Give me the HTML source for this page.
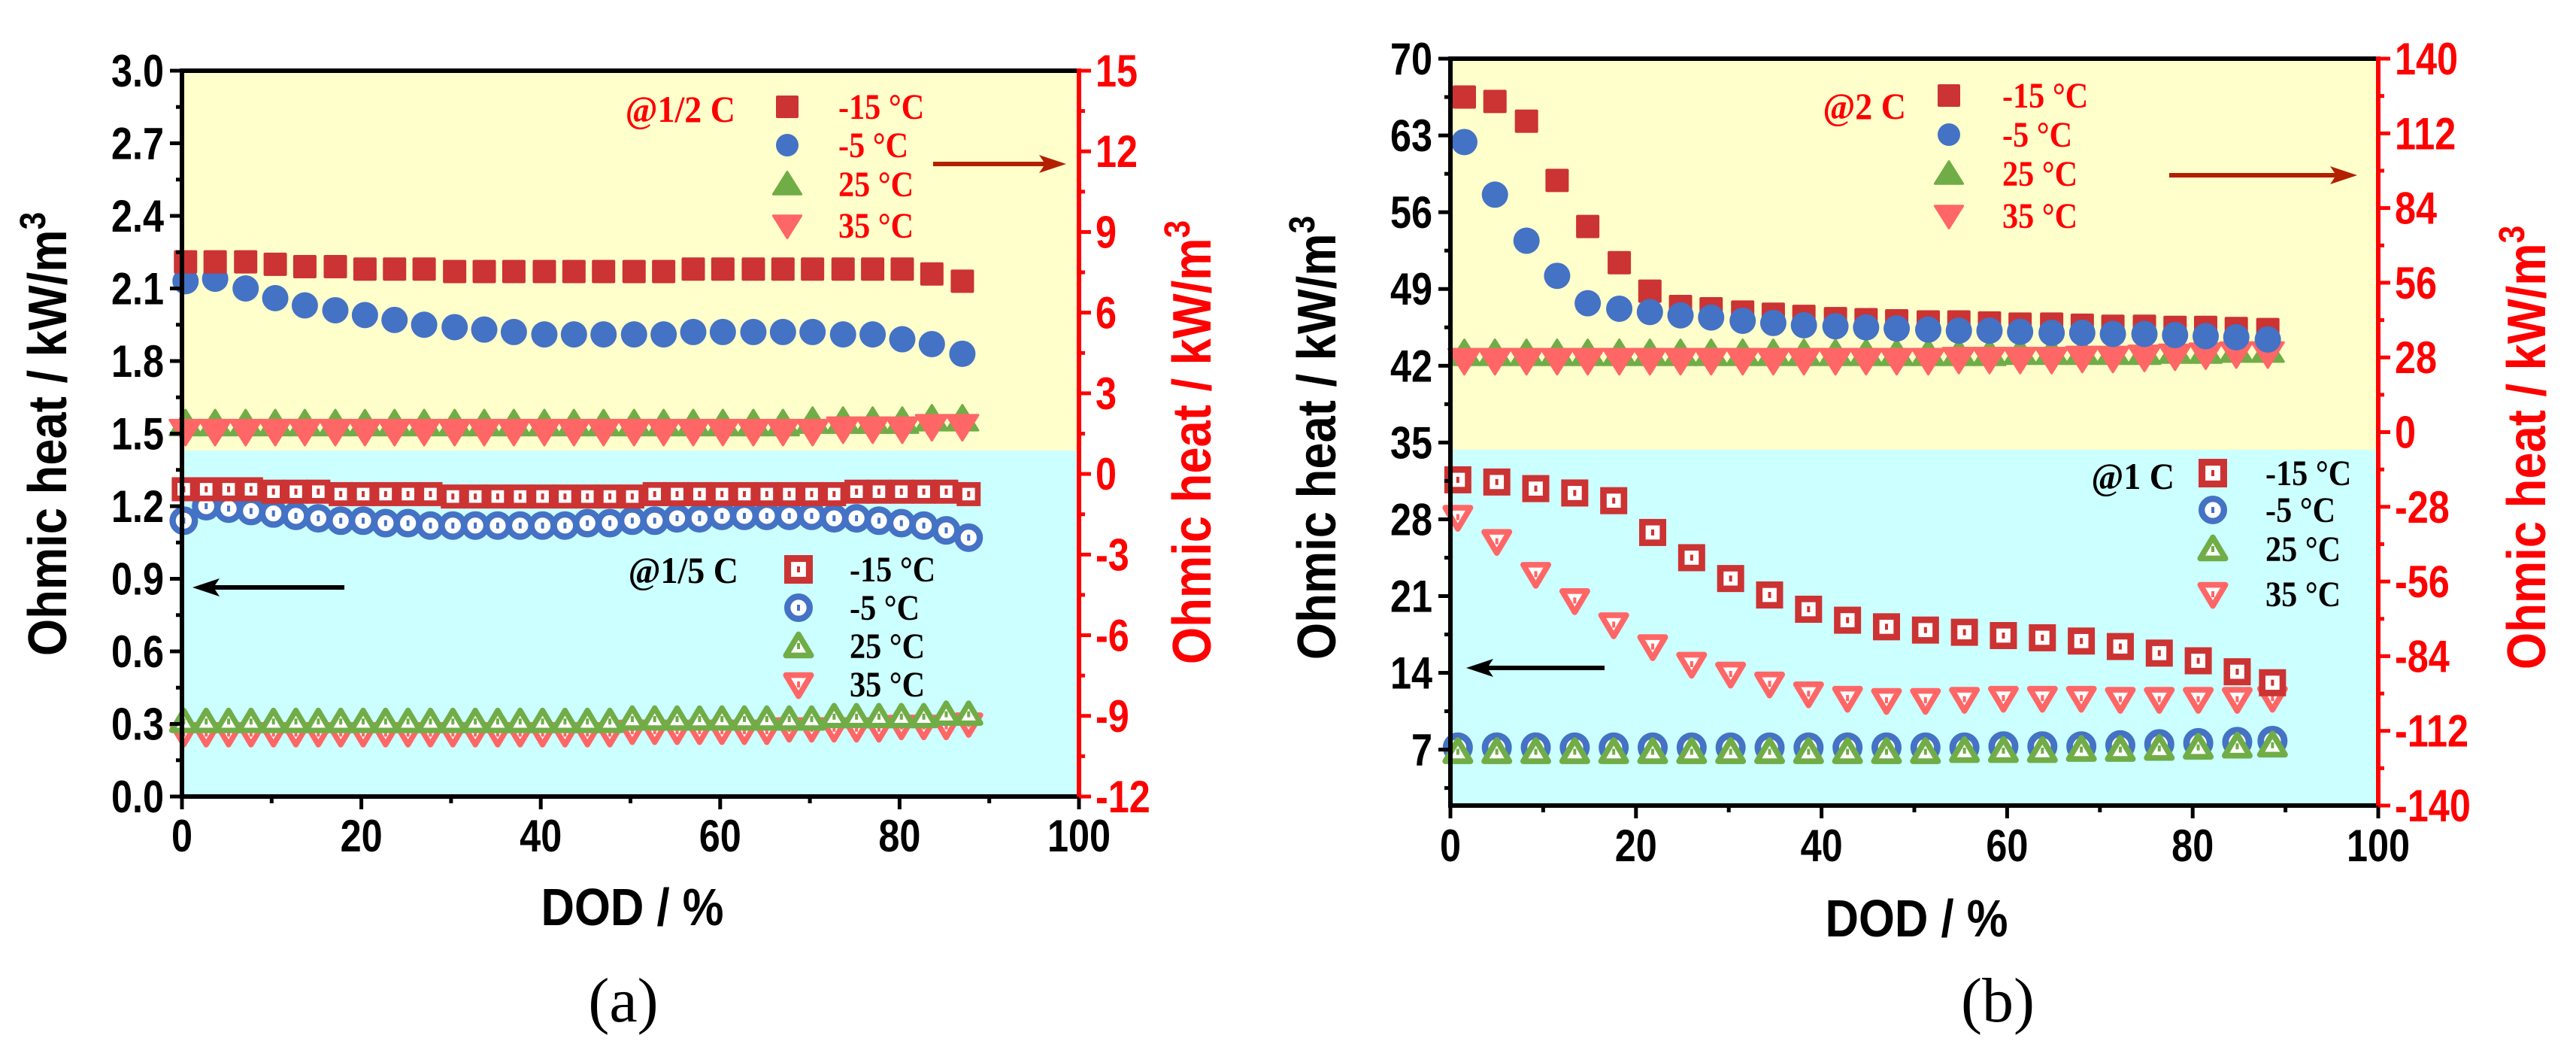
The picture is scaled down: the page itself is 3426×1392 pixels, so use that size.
<!DOCTYPE html>
<html><head><meta charset="utf-8"><style>
html,body{margin:0;padding:0;background:#fff;}
svg{display:block;}
text{font-family:"Liberation Sans",sans-serif;}
.sr{font-family:"Liberation Serif",serif;}
</style></head><body>
<svg id="c" width="3426" height="1392" viewBox="0 0 3426 1392" xmlns="http://www.w3.org/2000/svg"></svg>
<script>
// ---------- Panel (a) data ----------
const aXHalf = [0.4,3.7,7.1,10.4,13.7,17.1,20.4,23.7,27.0,30.4,33.7,37.0,40.4,43.7,47.0,50.4,53.7,57.0,60.3,63.7,67.0,70.3,73.7,77.0,80.3,83.6,87.0];
const aHalfM15 = [2.21,2.21,2.21,2.20,2.19,2.19,2.18,2.18,2.18,2.17,2.17,2.17,2.17,2.17,2.17,2.17,2.17,2.18,2.18,2.18,2.18,2.18,2.18,2.18,2.18,2.16,2.13];
const aHalfM5 = [2.13,2.14,2.10,2.06,2.03,2.01,1.99,1.97,1.95,1.94,1.93,1.92,1.91,1.91,1.91,1.91,1.91,1.92,1.92,1.92,1.92,1.92,1.91,1.91,1.89,1.87,1.83];
const aHalfP25 = [1.54,1.54,1.54,1.54,1.54,1.54,1.54,1.54,1.54,1.54,1.54,1.54,1.54,1.54,1.54,1.54,1.54,1.54,1.54,1.54,1.54,1.55,1.55,1.55,1.55,1.56,1.56];
const aHalfP35 = [1.51,1.51,1.51,1.51,1.51,1.51,1.51,1.51,1.51,1.51,1.51,1.51,1.51,1.51,1.51,1.51,1.51,1.51,1.51,1.51,1.51,1.51,1.52,1.52,1.52,1.53,1.53];
const aXFifth = [0.2,2.7,5.2,7.7,10.2,12.7,15.2,17.7,20.2,22.7,25.2,27.7,30.2,32.7,35.2,37.7,40.2,42.7,45.2,47.7,50.2,52.7,55.2,57.7,60.2,62.7,65.2,67.7,70.2,72.7,75.2,77.7,80.2,82.7,85.2,87.7];
const aFifthM15 = [1.27,1.27,1.27,1.27,1.26,1.26,1.26,1.25,1.25,1.25,1.25,1.25,1.24,1.24,1.24,1.24,1.24,1.24,1.24,1.24,1.24,1.25,1.25,1.25,1.25,1.25,1.25,1.25,1.25,1.25,1.26,1.26,1.26,1.26,1.26,1.25];
const aFifthM5 = [1.14,1.20,1.19,1.18,1.17,1.16,1.15,1.14,1.14,1.13,1.13,1.12,1.12,1.12,1.12,1.12,1.12,1.12,1.13,1.13,1.14,1.14,1.15,1.15,1.16,1.16,1.16,1.16,1.16,1.15,1.15,1.14,1.13,1.12,1.10,1.07];
const aFifthP25 = [0.31,0.31,0.31,0.31,0.31,0.31,0.31,0.31,0.31,0.31,0.31,0.31,0.31,0.31,0.31,0.31,0.31,0.31,0.31,0.31,0.32,0.32,0.32,0.32,0.32,0.32,0.32,0.32,0.32,0.33,0.33,0.33,0.33,0.33,0.34,0.34];
const aFifthP35 = [0.26,0.26,0.26,0.26,0.26,0.26,0.26,0.26,0.26,0.26,0.26,0.26,0.26,0.26,0.26,0.26,0.26,0.26,0.26,0.26,0.27,0.27,0.27,0.27,0.27,0.27,0.27,0.28,0.28,0.28,0.28,0.28,0.29,0.29,0.29,0.30];
const aLeftTicks = ["0.0","0.3","0.6","0.9","1.2","1.5","1.8","2.1","2.4","2.7","3.0"];
const aRightTicks = ["-12","-9","-6","-3","0","3","6","9","12","15"];
const xTicks = ["0","20","40","60","80","100"];
// ---------- Panel (b) data ----------
const bX2C = [1.5,4.8,8.2,11.5,14.8,18.2,21.5,24.8,28.1,31.5,34.8,38.1,41.5,44.8,48.1,51.5,54.8,58.1,61.4,64.8,68.1,71.4,74.8,78.1,81.4,84.7,88.1];
const b2CM15 = [66.5,66.1,64.3,58.9,54.7,51.4,48.8,47.4,47.2,46.9,46.7,46.5,46.3,46.2,46.1,46.0,46.0,45.9,45.8,45.8,45.7,45.6,45.6,45.5,45.5,45.4,45.3];
const b2CM5 = [62.4,57.6,53.4,50.2,47.7,47.2,46.9,46.6,46.4,46.1,45.9,45.7,45.6,45.5,45.4,45.3,45.2,45.2,45.1,45.0,45.0,44.9,44.9,44.8,44.7,44.6,44.4];
const b2CP25 = [43.1,43.1,43.1,43.1,43.1,43.1,43.1,43.1,43.1,43.1,43.1,43.1,43.1,43.1,43.1,43.1,43.1,43.1,43.2,43.2,43.2,43.2,43.2,43.3,43.3,43.4,43.4];
const b2CP35 = [42.5,42.5,42.5,42.5,42.5,42.5,42.5,42.5,42.5,42.5,42.5,42.5,42.5,42.5,42.5,42.5,42.6,42.6,42.6,42.6,42.7,42.7,42.8,42.9,43.0,43.1,43.1];
const bX1C = [0.8,5.0,9.2,13.4,17.6,21.8,26.0,30.2,34.4,38.6,42.8,47.0,51.2,55.4,59.6,63.8,68.0,72.2,76.4,80.6,84.8,88.6];
const b1CM15 = [31.6,31.4,30.8,30.4,29.7,26.8,24.5,22.6,21.1,19.8,18.8,18.2,17.9,17.7,17.4,17.2,16.9,16.4,15.8,15.1,14.1,13.1];
const b1CM5 = [7.2,7.2,7.2,7.2,7.2,7.2,7.2,7.2,7.2,7.2,7.2,7.2,7.2,7.2,7.3,7.3,7.3,7.4,7.5,7.6,7.7,7.8];
const b1CP25 = [6.8,6.8,6.8,6.8,6.8,6.8,6.8,6.8,6.8,6.8,6.8,6.8,6.8,6.9,6.9,6.9,7.0,7.0,7.1,7.2,7.3,7.4];
const b1CP35 = [28.2,26.0,23.0,20.6,18.4,16.4,14.8,13.9,13.0,12.1,11.7,11.5,11.5,11.6,11.7,11.7,11.7,11.6,11.6,11.6,11.6,11.7];
const bLeftTicks = ["7","14","21","28","35","42","49","56","63","70"];
const bRightTicks = ["-140","-112","-84","-56","-28","0","28","56","84","112","140"];

const NS="http://www.w3.org/2000/svg";
const svg=document.getElementById('c');
function el(tag,attrs,parent,txt){const e=document.createElementNS(NS,tag);for(const k in attrs)e.setAttribute(k,attrs[k]);if(txt!==undefined)e.textContent=txt;(parent||svg).appendChild(e);return e;}
const SX=0.84;
function ntext(parent,x,y,anchor,size,color,txt,sx){
  return el('text',{x:0,y:0,transform:`translate(${x},${y}) scale(${sx||SX},1)`,'text-anchor':anchor,'font-size':size,'font-weight':'bold',fill:color},parent,txt);
}

const C={sq:'#cc3333',ci:'#4472c4',up:'#70ad47',dn:'#ff6666'};

function marker(g,type,cx,cy,s,filled,color){
  let e;
  if(type==='sq'){
    const h=s/2;
    if(filled){e=el('rect',{x:cx-h,y:cy-h,width:s,height:s,rx:2,fill:color},g);}
    else{const sw=s*0.24;e=el('rect',{x:cx-h+sw/2,y:cy-h+sw/2,width:s-sw,height:s-sw,fill:'#fff',stroke:color,'stroke-width':sw},g);}
  }else if(type==='ci'){
    if(filled)e=el('circle',{cx:cx,cy:cy,r:s/2,fill:color},g);
    else{const sw=s*0.22;e=el('circle',{cx:cx,cy:cy,r:s/2-sw/2,fill:'#fff',stroke:color,'stroke-width':sw},g);}
  }else{
    const h=s*0.55,w=s*0.62,d=type==='up'?-1:1;
    const pts=`${cx},${cy+d*h} ${cx-w},${cy-d*h*0.8} ${cx+w},${cy-d*h*0.8}`;
    if(filled)e=el('polygon',{points:pts,fill:color,'stroke-linejoin':'round',stroke:color,'stroke-width':3},g);
    else{const sw=s*0.2;const h2=h-sw*0.7,w2=w-sw*0.9;
      e=el('polygon',{points:`${cx},${cy+d*h2} ${cx-w2},${cy-d*h2*0.8} ${cx+w2},${cy-d*h2*0.8}`,fill:'#fff',stroke:color,'stroke-width':sw,'stroke-linejoin':'round'},g);}
  }
  if(!filled){el('rect',{x:cx-2,y:cy-4,width:4,height:8,fill:color},g);}
  return e;
}

function panel(P){
  const g=el('g',{});
  
  
  const X=v=>P.x0+(v-0)/100*(P.x1-P.x0);
  const Y=v=>P.y1-(v-P.ymin)/(P.ymax-P.ymin)*(P.y1-P.y0);
  const YR=v=>P.y1-(v-P.rmin)/(P.rmax-P.rmin)*(P.y1-P.y0);
  const bg1=el('rect',{x:P.x0,y:P.y0,width:P.x1-P.x0,height:P.split-P.y0,fill:'#ffffcc'},g);
  
  const bg2=el('rect',{x:P.x0,y:P.split,width:P.x1-P.x0,height:P.y1-P.split,fill:'#ccffff'},g);
  
  P.series.forEach(s=>{
    const sg=el('g',{},g);
    
    
    s.ys.forEach((v,i)=>{
      const m=marker(sg,s.type,X(s.xs[i]),Y(v),s.size,s.filled,C[s.type]);
      
      
    });
  });
  el('line',{x1:P.x0,y1:P.y0,x2:P.x1,y2:P.y0,stroke:'#000','stroke-width':6},g);
  el('line',{x1:P.x0-3,y1:P.y1,x2:P.x1,y2:P.y1,stroke:'#000','stroke-width':6},g);
  el('line',{x1:P.x0,y1:P.y0-3,x2:P.x0,y2:P.y1+3,stroke:'#000','stroke-width':6},g);
  el('line',{x1:P.x1,y1:P.y0-3,x2:P.x1,y2:P.y1+3,stroke:'#f00','stroke-width':6},g);
  const xt=el('g',{},g);
  for(let v=0;v<=100;v+=10){const major=v%20===0;
    el('line',{x1:X(v),y1:P.y1,x2:X(v),y2:P.y1+(major?17:9),stroke:'#000','stroke-width':5},xt);}
  xTicks.forEach(t=>{const tx=ntext(xt,X(+t),P.xlabY,'middle',60,'#000',t);
    });
  const lt=el('g',{},g);
  const ls=P.lstep;
  for(let k=0;;k++){const v=P.lfirst+k*ls/2;if(v>P.ymax+1e-6)break;if(v<P.ymin-1e-6)continue;const major=k%2===0;
    el('line',{x1:P.x0,y1:Y(v),x2:P.x0-(major?16:8),y2:Y(v),stroke:'#000','stroke-width':5},lt);}
  if(P.lfirst-ls/2>=P.ymin)el('line',{x1:P.x0,y1:Y(P.lfirst-ls/2),x2:P.x0-8,y2:Y(P.lfirst-ls/2),stroke:'#000','stroke-width':5},lt);
  P.lticks.forEach(t=>{const tx=ntext(lt,P.x0-24,Y(+t)+21,'end',60,'#000',t);
    });
  const rt=el('g',{},g);
  const rs=P.rstep;
  for(let v=P.rmin;v<=P.rmax+1e-6;v+=rs/2){const major=Math.abs(((v-P.rmin)/rs)-Math.round((v-P.rmin)/rs))<1e-6;
    el('line',{x1:P.x1,y1:YR(v),x2:P.x1+(major?16:8),y2:YR(v),stroke:'#f00','stroke-width':5},rt);}
  P.rticks.forEach(t=>{const tx=ntext(rt,P.x1+22,YR(+t)+21,'start',60,'#f00',t);
    });
  const yt=el('text',{transform:`translate(${P.ltx},${P.lty}) rotate(-90) scale(0.88,1)`,'text-anchor':'middle','font-size':72,'font-weight':'bold',fill:'#000'},g);
  
  yt.innerHTML='Ohmic heat / kW/m<tspan dy="-28" font-size="48">3</tspan>';
  const rtt=el('text',{transform:`translate(${P.rtx},${P.rty}) rotate(-90) scale(0.88,1)`,'text-anchor':'middle','font-size':72,'font-weight':'bold',fill:'#f00'},g);
  
  rtt.innerHTML='Ohmic heat / kW/m<tspan dy="-28" font-size="48">3</tspan>';
  const xtt=ntext(g,P.xtx,P.xty,'middle',70,'#000','DOD / %',0.88);
  
  const pl=el('text',{x:P.xtx+P.capdx,y:1358,'text-anchor':'middle','font-size':84,fill:'#000',class:'sr'},g,P.cap);
  
  P.legends.forEach(L=>{
    const lg=el('g',{},g);
    const h=el('text',{x:0,y:0,transform:`translate(${L.hx},${L.hy}) scale(0.92,1)`,'text-anchor':'end','font-size':50,'font-weight':'bold',fill:L.color,class:'sr'},lg,L.head);
    
    L.rows.forEach((r,i)=>{
      marker(lg,r.type,L.mx,L.my[i],L.size,L.filled,C[r.type]);
      const t=el('text',{x:0,y:0,transform:`translate(${L.tx},${L.my[i]+16}) scale(0.88,1)`,'font-size':48,'font-weight':'bold',fill:L.color,class:'sr'},lg,r.label);
      
    });
  });
  P.arrows.forEach(A=>{
    const ag=el('g',{},g);
    const d=A.x2>A.x1?1:-1;
    el('line',{x1:A.x1,y1:A.y,x2:A.x2-d*20,y2:A.y,stroke:A.color,'stroke-width':6},ag);
    el('polygon',{points:`${A.x2},${A.y} ${A.x2-d*36},${A.y-12} ${A.x2-d*28},${A.y} ${A.x2-d*36},${A.y+12}`,fill:A.color},ag);
  });
}

const legRows=[{type:'sq',label:'-15 °C'},{type:'ci',label:'-5 °C'},{type:'up',label:'25 °C'},{type:'dn',label:'35 °C'}];

panel({name:'panel-a-chart',x0:242,x1:1435,y0:94,y1:1059,split:599,ymin:0,ymax:3.0,rmin:-12,rmax:15,lstep:0.3,lfirst:0,rstep:3,
  lticks:aLeftTicks,rticks:aRightTicks,xlabY:1132,ltx:88,lty:577,rtx:1610,rty:588,xtx:841,xty:1230,cap:'(a)',capdx:-12,
  series:[
    {name:'series-fifth-c-35c',xs:aXFifth,ys:aFifthP35,type:'dn',size:36,filled:false},
    {name:'series-fifth-c-25c',xs:aXFifth,ys:aFifthP25,type:'up',size:36,filled:false},
    {name:'series-fifth-c-minus5c',xs:aXFifth,ys:aFifthM5,type:'ci',size:38,filled:false},
    {name:'series-fifth-c-minus15c',xs:aXFifth,ys:aFifthM15,type:'sq',size:32,filled:false},
    {name:'series-half-c-25c',xs:aXHalf,ys:aHalfP25,type:'up',size:34,filled:true},
    {name:'series-half-c-35c',xs:aXHalf,ys:aHalfP35,type:'dn',size:34,filled:true},
    {name:'series-half-c-minus5c',xs:aXHalf,ys:aHalfM5,type:'ci',size:35,filled:true},
    {name:'series-half-c-minus15c',xs:aXHalf,ys:aHalfM15,type:'sq',size:31,filled:true}],
  legends:[
    {name:'legend-half-c',head:'@1/2 C',hx:978,hy:162,color:'#f00',mx:1047,my:[142,193,245,300],tx:1115,size:30,filled:true,rows:legRows},
    {name:'legend-fifth-c',head:'@1/5 C',hx:982,hy:775,color:'#000',mx:1062,my:[757,808,859,910],tx:1130,size:38,filled:false,rows:legRows}],
  arrows:[{name:'arrow-to-right-axis',x1:1241,x2:1418,y:218,color:'#b22000'},{name:'arrow-to-left-axis',x1:458,x2:256,y:781,color:'#000'}]
});

panel({name:'panel-b-chart',x0:1929,x1:3163,y0:78,y1:1071,split:598,ymin:1.9,ymax:70,rmin:-140,rmax:140,lstep:7,lfirst:7,rstep:28,
  lticks:bLeftTicks,rticks:bRightTicks,xlabY:1145,ltx:1776,lty:582,rtx:3385,rty:595,xtx:2549,xty:1245,cap:'(b)',capdx:108,
  series:[
    {name:'series-1c-minus5c',xs:bX1C,ys:b1CM5,type:'ci',size:40,filled:false},
    {name:'series-1c-25c',xs:bX1C,ys:b1CP25,type:'up',size:38,filled:false},
    {name:'series-1c-35c',xs:bX1C,ys:b1CP35,type:'dn',size:38,filled:false},
    {name:'series-1c-minus15c',xs:bX1C,ys:b1CM15,type:'sq',size:36,filled:false},
    {name:'series-2c-25c',xs:bX2C,ys:b2CP25,type:'up',size:34,filled:true},
    {name:'series-2c-35c',xs:bX2C,ys:b2CP35,type:'dn',size:34,filled:true},
    {name:'series-2c-minus15c',xs:bX2C,ys:b2CM15,type:'sq',size:31,filled:true},
    {name:'series-2c-minus5c',xs:bX2C,ys:b2CM5,type:'ci',size:35,filled:true}],
  legends:[
    {name:'legend-2c',head:'@2 C',hx:2535,hy:158,color:'#f00',mx:2592,my:[127,179,231,287],tx:2663,size:30,filled:true,rows:legRows},
    {name:'legend-1c',head:'@1 C',hx:2892,hy:650,color:'#000',mx:2943,my:[629,678,730,790],tx:3013,size:38,filled:false,rows:legRows}],
  arrows:[{name:'arrow-to-right-axis',x1:2885,x2:3135,y:233,color:'#b22000'},{name:'arrow-to-left-axis',x1:2134,x2:1950,y:888,color:'#000'}]
});
</script>
</body></html>
